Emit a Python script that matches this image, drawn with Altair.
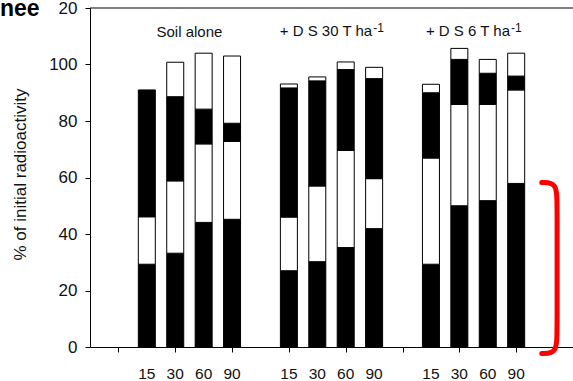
import altair as alt
import pandas as pd
import json

# ---------------- data ----------------
groups = ["Soil  alone", "+ D S 30 T ha", "+ D S 6 T ha"]
group_sup = ["", "-1", "-1"]
times = ["15", "30", "60", "90"]

# cumulative segment tops per bar (alternating black / white, starting black at 0)
soil_alone = [[29.3, 46.1, 91.0],
              [33.2, 58.8, 88.6, 100.8],
              [44.1, 71.9, 84.2, 104.0],
              [45.2, 72.8, 79.2, 103.0]]
ds30 = [[27.0, 46.0, 91.7, 93.1],
        [30.2, 57.0, 94.2, 95.6],
        [35.2, 69.6, 98.2, 100.9],
        [41.9, 59.6, 95.0, 99.0]]
ds6 = [[29.3, 66.9, 90.0, 93.0],
       [50.0, 85.9, 101.8, 105.7],
       [51.8, 85.9, 96.9, 101.8],
       [57.9, 91.0, 95.9, 104.0]]
all_tops = [soil_alone, ds30, ds6]

y_ticks = [0, 20, 40, 60, 80, 100, 120]
y_tick_labels = ["0", "20", "40", "60", "80", "100", "20"]

# red bracket annotation (x in slot units, y in %)
bracket_x = [15.9, 16.44, 16.44, 16.44, 16.44, 15.9]
bracket_y = [58.2, 58.2, 50.0, 6.0, -2.3, -2.3]

title_fragment = "nee"
y_title = "% of initial radioactivity"

FONT = "Liberation Sans"
INK = "#111111"

# ---------------- tables ----------------
rows = []
tick_rows = []
for g, bars in enumerate(all_tops):
    for t, tops in enumerate(bars):
        pos = 5 * g + t + 2
        tick_rows.append({"pos": pos, "lab": times[t]})
        lo = 0.0
        for k, hi in enumerate(tops):
            rows.append({"pos": pos, "y0": lo, "y1": hi,
                         "shade": "dark" if k % 2 == 0 else "light"})
            lo = hi
seg_df = pd.DataFrame(rows)
tick_df = pd.DataFrame(tick_rows)

W = 483
H = 339
xscale = alt.Scale(domain=[0, 17], nice=False, zero=False, padding=0)
yscale = alt.Scale(domain=[0, 120], nice=False, padding=0)

xaxis = alt.Axis(values=list(range(1, 16)), title=None, grid=False, labels=False,
                 tickSize=5, domainColor="#000000", tickColor="#000000")
yaxis = alt.Axis(values=y_ticks, title=y_title, grid=False,
                 labelExpr=json.dumps(y_tick_labels).replace('"', "'")
                 + "[indexof(" + json.dumps(y_ticks) + ", datum.value)]",
                 tickSize=5, labelPadding=8, labelFontSize=17, labelFont=FONT,
                 labelColor=INK, domainColor="#000000", tickColor="#000000",
                 labelOverlap=False,
                 titleFont=FONT, titleFontSize=17, titleFontWeight="normal",
                 titleColor=INK, titleAngle=270, titleX=-65, titleY=166,
                 titleAlign="center", titleBaseline="alphabetic")

bars = alt.Chart(seg_df).mark_bar(size=17, stroke="#000000", strokeWidth=1).encode(
    x=alt.X("pos:Q", scale=xscale, axis=xaxis),
    y=alt.Y("y0:Q", scale=yscale, axis=yaxis),
    y2="y1:Q",
    fill=alt.Fill("shade:N", scale=alt.Scale(domain=["dark", "light"],
                                             range=["#000000", "#ffffff"]), legend=None),
)

# time labels under the x axis
xlabels = alt.Chart(tick_df).mark_text(align="center", baseline="alphabetic", font=FONT,
                                       fontSize=15.5, color=INK).encode(
    x=alt.X("pos:Q"), y=alt.value(H + 32), text="lab:N")

top_rule = alt.Chart(alt.Data(values=[{"y0": 120}])).mark_rule(
    color="#000000", strokeWidth=1).encode(y=alt.Y("y0:Q"))

# character width table (em) for Liberation Sans, to place superscripts
CW = {"+": 0.584, " ": 0.278, "D": 0.722, "S": 0.667, "T": 0.611, "h": 0.556,
      "a": 0.556, "-": 0.333, "o": 0.556, "i": 0.222, "l": 0.222, "n": 0.556,
      "e": 0.556}


def text_w(s, size):
    return sum(CW.get(c, 0.556) for c in s) * size


MAIN_SIZE = 15
SUP_SIZE = 12
label_layers = []
for g, (name, sup) in enumerate(zip(groups, group_sup)):
    center = 5 * g + 3.5
    d = alt.Data(values=[{"pos": center, "main": name, "sup": sup}])
    if sup:
        mw = text_w(name, MAIN_SIZE)
        sw = text_w(sup, SUP_SIZE)
        total = mw + 1 + sw
        main = alt.Chart(d).mark_text(align="right", baseline="alphabetic", font=FONT,
                                      fontSize=MAIN_SIZE, color=INK,
                                      dx=total / 2 - sw - 1).encode(
            x=alt.X("pos:Q"), y=alt.value(28), text="main:N")
        suptext = alt.Chart(d).mark_text(align="left", baseline="alphabetic", font=FONT,
                                         fontSize=SUP_SIZE, color=INK,
                                         dx=total / 2 - sw).encode(
            x=alt.X("pos:Q"), y=alt.value(24), text="sup:N")
        label_layers += [main, suptext]
    else:
        main = alt.Chart(d).mark_text(align="center", baseline="alphabetic", font=FONT,
                                      fontSize=MAIN_SIZE, color=INK).encode(
            x=alt.X("pos:Q"), y=alt.value(29), text="main:N")
        label_layers.append(main)

bracket_df = pd.DataFrame({"pos": bracket_x, "y0": bracket_y,
                           "i": list(range(len(bracket_x)))})
bracket = alt.Chart(bracket_df).mark_line(color="#ff0000", strokeWidth=5,
                                          interpolate="basis", strokeCap="round").encode(
    x=alt.X("pos:Q"),
    y=alt.Y("y0:Q"),
    order="i:Q",
)

frag = alt.Chart(alt.Data(values=[{"t": title_fragment}])).mark_text(
    align="left", baseline="alphabetic", font=FONT, fontSize=23, fontWeight="bold",
    color="#000000").encode(x=alt.value(-90), y=alt.value(8), text="t:N")

chart = alt.layer(bars, xlabels, top_rule, *label_layers, bracket, frag).properties(
    width=W, height=H,
    autosize=alt.AutoSizeParams(type="none"),
    padding={"left": 90, "top": 8, "right": 0, "bottom": 34},
    background="#ffffff",
).configure_view(stroke=None)

chart.save("out.html", embed_options={"renderer": "svg", "actions": False})
